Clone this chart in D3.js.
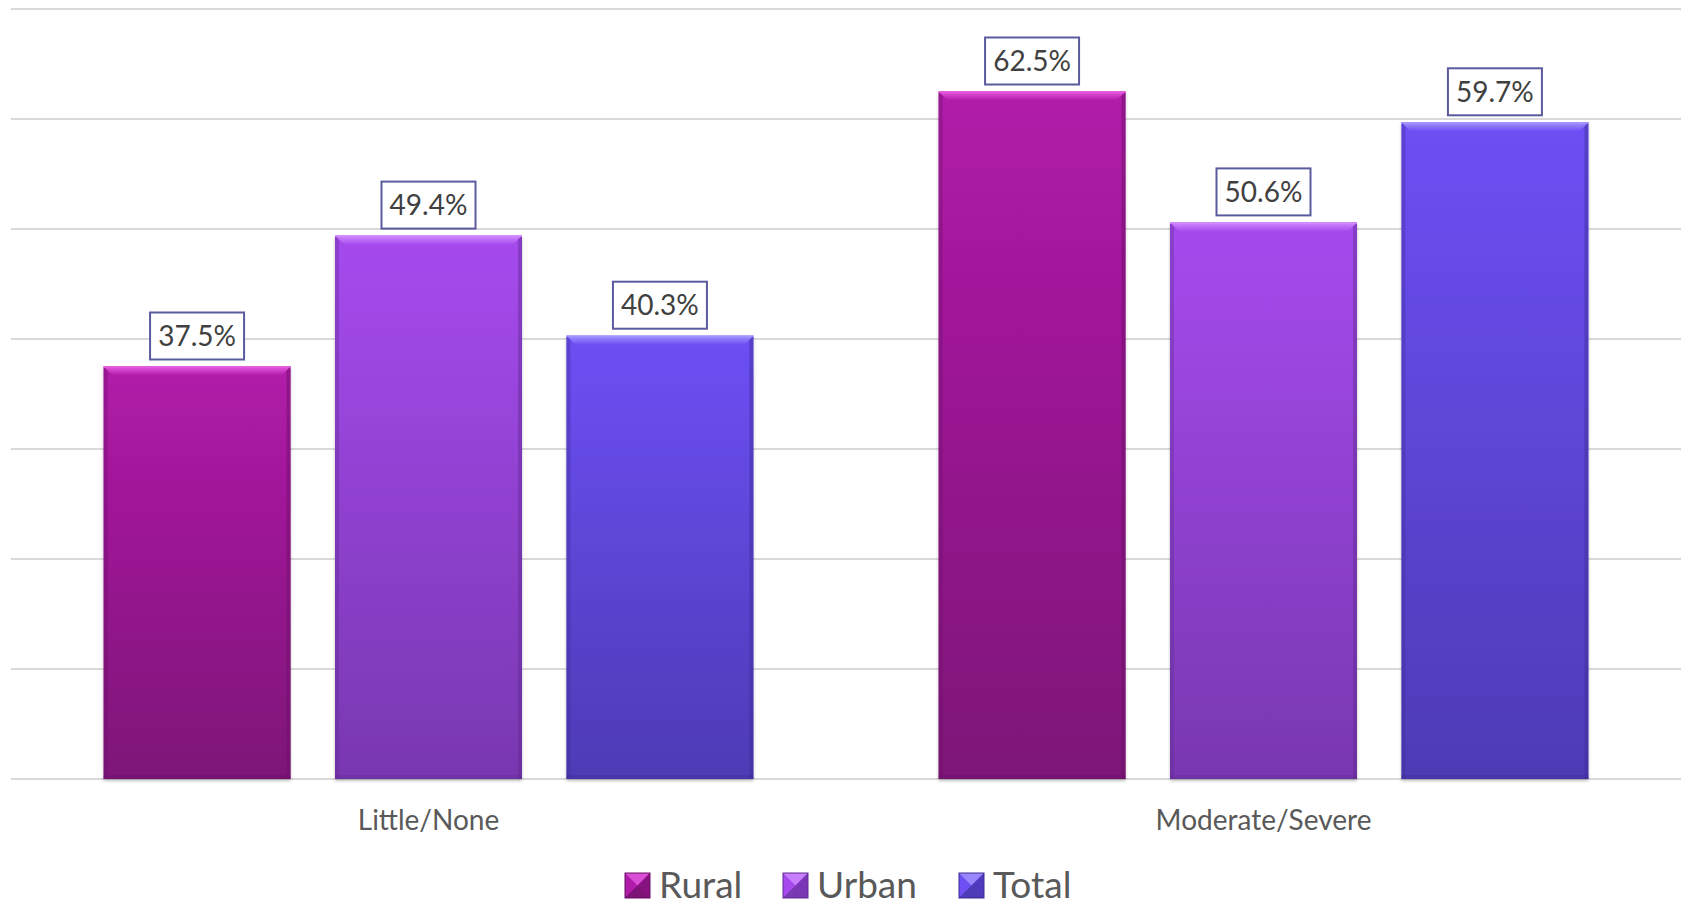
<!DOCTYPE html>
<html>
<head>
<meta charset="utf-8">
<script src="https://cdn.jsdelivr.net/npm/d3@7/dist/d3.min.js"></script>
<style>
  body { margin: 0; background: #ffffff; }
  svg { display: block; font-family: Lato, "Open Sans", sans-serif; }
</style>
</head>
<body>
<svg id="chart" width="1681" height="907"></svg>
<script>
const categories = ['Little/None', 'Moderate/Severe'];
const seriesNames = ['Rural', 'Urban', 'Total'];
const rural = [37.5, 62.5];
const urban = [49.4, 50.6];
const total = [40.3, 59.7];
const gridTicks = [0, 10, 20, 30, 40, 50, 60, 70];

// colores de cada serie: arriba, abajo, bisel claro
const colores = {
  Rural: { top: '#b11ba9', bottom: '#7d1377', light: '#e55ae0', edge: '#6a0f66' },
  Urban: { top: '#a64aee', bottom: '#7838b0', light: '#d08cff', edge: '#5f2a92' },
  Total: { top: '#6d4ff4', bottom: '#4d3bb5', light: '#a395ff', edge: '#3c2c96' }
};

const valores = { Rural: rural, Urban: urban, Total: total };

const svg = d3.select('#chart');
const margin = { left: 11, right: 0, top: 9, bottom: 128 };
const width = 1681, height = 907;

const x0 = d3.scaleBand().domain(categories).range([margin.left, width - margin.right]);
const x1 = d3.scaleBand().domain(seriesNames).range([0, x0.bandwidth()])
  .paddingInner(0.192).paddingOuter(0.4);
const y = d3.scaleLinear().domain([0, 70]).range([height - margin.bottom, margin.top]);

// gradientes
const defs = svg.append('defs');
seriesNames.forEach((s) => {
  const c = colores[s];
  const g = defs.append('linearGradient').attr('id', 'grad-' + s)
    .attr('x1', 0).attr('y1', 0).attr('x2', 0).attr('y2', 1);
  g.append('stop').attr('offset', '0%').attr('stop-color', c.top);
  g.append('stop').attr('offset', '100%').attr('stop-color', c.bottom);
  const b = defs.append('linearGradient').attr('id', 'bevel-' + s)
    .attr('x1', 0).attr('y1', 0).attr('x2', 0).attr('y2', 1);
  b.append('stop').attr('offset', '0%').attr('stop-color', c.light);
  b.append('stop').attr('offset', '100%').attr('stop-color', c.top);
});
const sombra = defs.append('filter').attr('id', 'sombra')
  .attr('x', '-5%').attr('y', '-5%').attr('width', '110%').attr('height', '110%');
sombra.append('feDropShadow').attr('dx', 0).attr('dy', 2).attr('stdDeviation', 1.5)
  .attr('flood-color', '#000').attr('flood-opacity', 0.25);

// lineas de cuadricula
svg.append('g').selectAll('line').data(gridTicks).join('line')
  .attr('x1', margin.left).attr('x2', width)
  .attr('y1', (d) => y(d)).attr('y2', (d) => y(d))
  .attr('stroke', '#d9d9d9').attr('stroke-width', 2);

// barras
const grupos = svg.append('g').selectAll('g').data(categories).join('g')
  .attr('transform', (d) => `translate(${x0(d)},0)`);

grupos.each(function (cat, ci) {
  const g = d3.select(this);
  seriesNames.forEach((s) => {
    const v = valores[s][ci];
    const bx = x1(s), bw = x1.bandwidth();
    const by = y(v), bh = y(0) - y(v);
    const c = colores[s];
    const bar = g.append('g');
    bar.append('rect')
      .attr('x', bx).attr('y', by).attr('width', bw).attr('height', bh)
      .attr('fill', 'url(#grad-' + s + ')')
      .attr('filter', 'url(#sombra)');
    // bordes laterales oscuros
    bar.append('rect').attr('x', bx).attr('y', by).attr('width', 4).attr('height', bh)
      .attr('fill', c.edge).attr('opacity', 0.35);
    bar.append('rect').attr('x', bx + bw - 4).attr('y', by).attr('width', 4).attr('height', bh)
      .attr('fill', c.edge).attr('opacity', 0.45);
    bar.append('rect').attr('x', bx).attr('y', by + bh - 4).attr('width', bw).attr('height', 4)
      .attr('fill', c.edge).attr('opacity', 0.35);
    // bisel superior
    const bev = 9;
    bar.append('path')
      .attr('d', `M${bx},${by} L${bx + bw},${by} L${bx + bw - bev},${by + bev} L${bx + bev},${by + bev} Z`)
      .attr('fill', 'url(#bevel-' + s + ')');
    bar.append('line')
      .attr('x1', bx).attr('x2', bx + bw).attr('y1', by + 0.5).attr('y2', by + 0.5)
      .attr('stroke', c.light).attr('stroke-width', 1.5);

    // etiqueta con caja
    const lw = 94, lh = 47;
    const lx = bx + bw / 2;
    const ly = by - 7 - lh;
    g.append('rect')
      .attr('x', lx - lw / 2).attr('y', ly).attr('width', lw).attr('height', lh)
      .attr('fill', '#ffffff').attr('stroke', '#5a5a9e').attr('stroke-width', 2);
    g.append('text')
      .attr('x', lx).attr('y', ly + lh / 2).attr('dy', '0.36em')
      .attr('text-anchor', 'middle').attr('font-size', 28).attr('fill', '#404040')
      .text(v.toFixed(1) + '%');
  });
});

// eje x
const xAxis = svg.append('g')
  .attr('transform', `translate(0,${y(0)})`)
  .call(d3.axisBottom(x0).tickSize(0).tickPadding(0));
xAxis.select('.domain').remove();
xAxis.selectAll('text')
  .attr('y', 51).attr('dy', 0)
  .attr('font-size', 28).attr('fill', '#595959')
  .style('font-family', 'Lato, "Open Sans", sans-serif');

// leyenda
const leyendaX = [625, 783, 959];
const leyenda = svg.append('g');
seriesNames.forEach((s, i) => {
  const c = colores[s];
  const lx = leyendaX[i], ly = 873, sz = 25;
  const it = leyenda.append('g');
  it.append('rect').attr('x', lx).attr('y', ly).attr('width', sz).attr('height', sz)
    .attr('fill', c.top);
  // piramide del cuadro
  const m = sz / 2;
  it.append('path').attr('d', `M${lx},${ly} L${lx + sz},${ly} L${lx + m},${ly + m} Z`)
    .attr('fill', c.light).attr('opacity', 0.8);
  it.append('path').attr('d', `M${lx},${ly + sz} L${lx + sz},${ly + sz} L${lx + m},${ly + m} Z`)
    .attr('fill', c.bottom);
  it.append('path').attr('d', `M${lx + sz},${ly} L${lx + sz},${ly + sz} L${lx + m},${ly + m} Z`)
    .attr('fill', c.edge).attr('opacity', 0.6);
  it.append('rect').attr('x', lx).attr('y', ly).attr('width', sz).attr('height', sz)
    .attr('fill', 'none').attr('stroke', c.edge).attr('stroke-width', 1);
  it.append('text').attr('x', lx + sz + 9).attr('y', ly + sz)
    .attr('font-size', 37).attr('fill', '#595959').text(s);
});
</script>
</body>
</html>
